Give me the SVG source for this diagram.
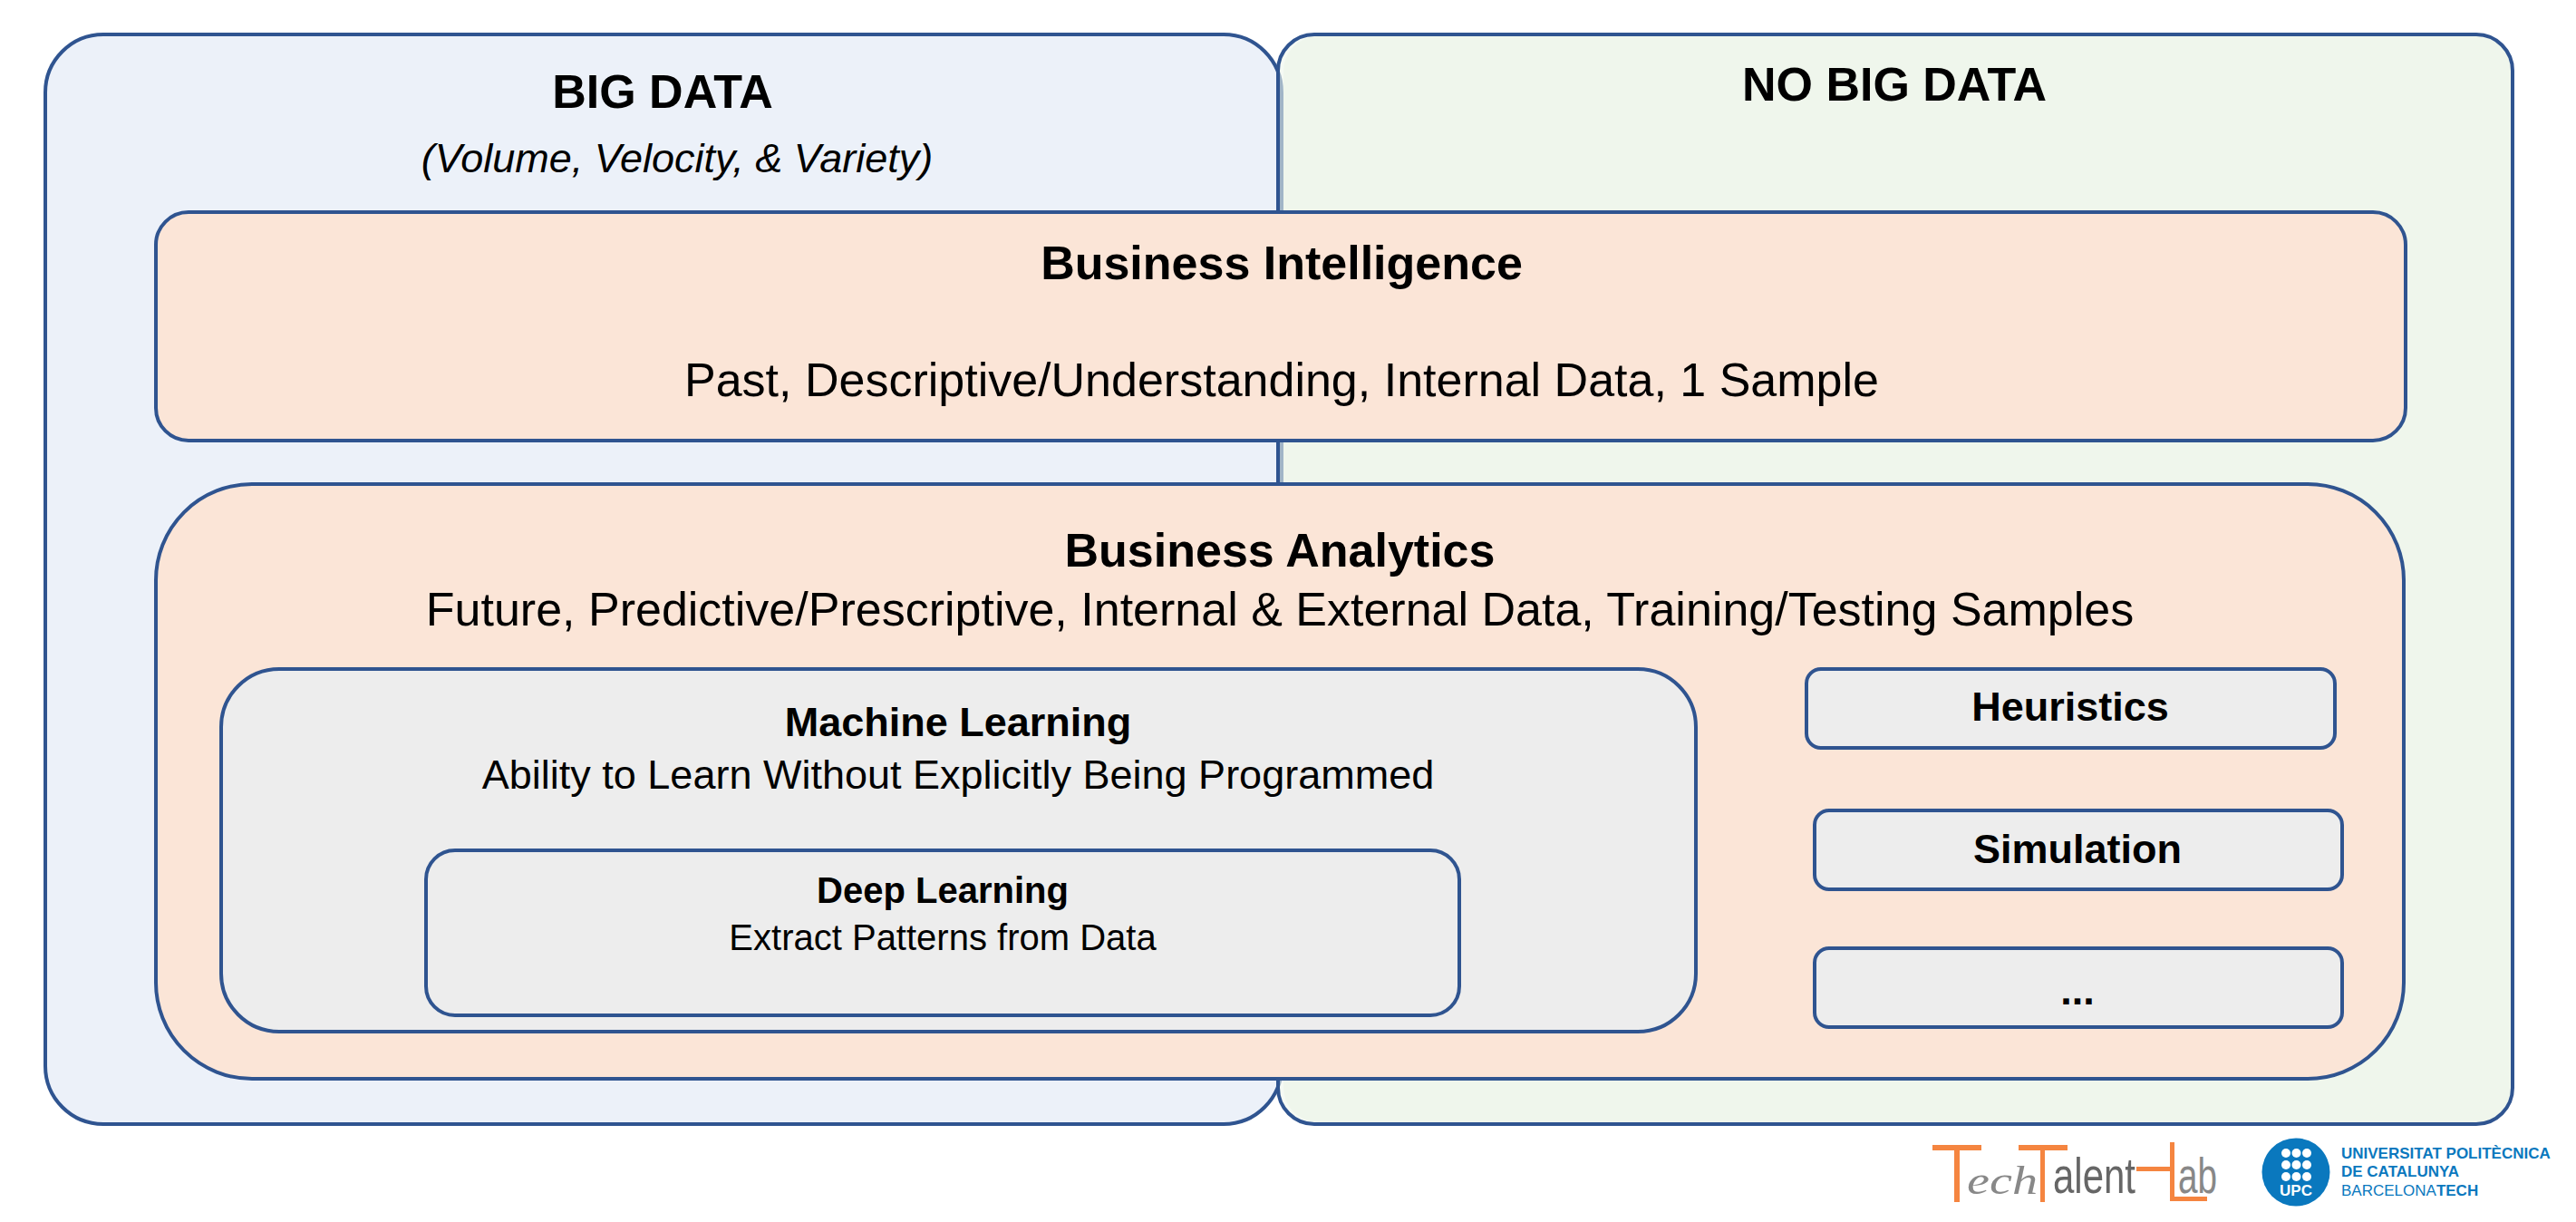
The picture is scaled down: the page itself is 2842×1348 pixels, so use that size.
<svg xmlns="http://www.w3.org/2000/svg" width="2842" height="1348" viewBox="0 0 2842 1348">
<style>
text{font-family:"Liberation Sans",Arial,sans-serif;fill:#000;text-anchor:middle}
.b{stroke:#2f5490;stroke-width:4}
.peach{fill:#fbe5d7}.gray{fill:#ededed}
.t1{font-size:52px;font-weight:700}
.t2{font-size:52px}
.t3{font-size:45px;font-weight:700}
.t4{font-size:45px}
.t5{font-size:40px;font-weight:700}
.t6{font-size:40px}
.o{fill:#f58540}
.u{fill:#0a78be;text-anchor:start;font-size:17px;font-weight:700}
</style>
<rect width="2842" height="1348" fill="#fff"/>
<g id="big-data"><rect class="b" x="50" y="38" width="1364" height="1202" rx="64" fill="#ecf1f9"/>
<text class="t1" x="731" y="119">BIG DATA</text>
<text x="747" y="190" font-size="45" font-style="italic">(Volume, Velocity, &amp; Variety)</text></g>
<g id="no-big-data"><rect x="1410" y="38" width="1362" height="1202" rx="40" fill="#eff6ec" fill-opacity=".6"/>
<rect x="1416" y="40" width="1354" height="1198" rx="38" fill="#eff6ec"/>
<rect class="b" x="1410" y="38" width="1362" height="1202" rx="40" fill="none"/>
<text class="t1" x="2090" y="111">NO BIG DATA</text></g>
<g id="business-intelligence"><rect class="b peach" x="172" y="234" width="2482" height="252" rx="36"/>
<text class="t1" x="1414" y="308">Business Intelligence</text>
<text class="t2" x="1414" y="437">Past, Descriptive/Understanding, Internal Data, 1 Sample</text></g>
<g id="business-analytics"><rect class="b peach" x="172" y="534" width="2480" height="656" rx="106"/>
<text class="t1" x="1412" y="625">Business Analytics</text>
<text class="t2" x="1412" y="690">Future, Predictive/Prescriptive, Internal &amp; External Data, Training/Testing Samples</text></g>
<g id="machine-learning"><rect class="b gray" x="244" y="738" width="1627" height="400" rx="64"/>
<text class="t3" x="1057" y="812">Machine Learning</text>
<text class="t4" x="1057" y="870">Ability to Learn Without Explicitly Being Programmed</text></g>
<g id="deep-learning"><rect class="b gray" x="470" y="938" width="1140" height="182" rx="32"/>
<text class="t5" x="1040" y="996">Deep Learning</text>
<text class="t6" x="1040" y="1048">Extract Patterns from Data</text></g>
<g id="heuristics"><rect class="b gray" x="1993" y="738" width="583" height="87" rx="16"/>
<text class="t3 " x="2284" y="795" font-size="48">Heuristics</text></g>
<g id="simulation"><rect class="b gray" x="2002" y="894" width="582" height="87" rx="16"/>
<text class="t3" x="2292" y="952">Simulation</text></g>
<g id="more"><rect class="b gray" x="2002" y="1046" width="582" height="87" rx="16"/>
<text class="t3" x="2292" y="1108">...</text></g>
<g id="connectors"></g>
<g id="techtalentlab-logo">
<rect class="o" x="2132" y="1263" width="54" height="6"/><rect class="o" x="2156" y="1263" width="6" height="63"/>
<rect class="o" x="2227" y="1263" width="54" height="6"/><rect class="o" x="2251" y="1263" width="5" height="63"/>
<rect class="o" x="2357" y="1287" width="39" height="5"/><rect class="o" x="2394" y="1260" width="5" height="65"/><rect class="o" x="2394" y="1320" width="41" height="5"/>
<text x="2170" y="1317" font-size="44" font-family="Liberation Serif" font-style="italic" style="font-family:'Liberation Serif',serif;fill:#888;text-anchor:start" textLength="78" lengthAdjust="spacingAndGlyphs">ech</text>
<text x="2265" y="1316" font-size="56" style="fill:#666;text-anchor:start" textLength="91" lengthAdjust="spacingAndGlyphs">alent</text>
<text x="2403" y="1316" font-size="56" style="fill:#888;text-anchor:start" textLength="43" lengthAdjust="spacingAndGlyphs">ab</text>
</g>
<g id="upc-logo">
<circle cx="2533" cy="1293" r="37.5" fill="#0a78be"/>
<g fill="#fff"><circle cx="2522" cy="1272" r="5"/><circle cx="2533.5" cy="1272" r="5"/><circle cx="2545" cy="1272" r="5"/><circle cx="2522" cy="1285" r="5"/><circle cx="2533.5" cy="1285" r="5"/><circle cx="2545" cy="1285" r="5"/><circle cx="2522" cy="1298" r="5"/><circle cx="2533.5" cy="1298" r="5"/><circle cx="2545" cy="1298" r="5"/></g>
<text x="2533" y="1319" font-size="17" font-weight="700" style="fill:#fff">UPC</text>
<text class="u" x="2583" y="1278">UNIVERSITAT POLITÈCNICA</text>
<text class="u" x="2583" y="1298">DE CATALUNYA</text>
<text class="u" x="2583" y="1319" style="font-weight:400">BARCELONA<tspan font-weight="700">TECH</tspan></text>
</g>
</svg>
